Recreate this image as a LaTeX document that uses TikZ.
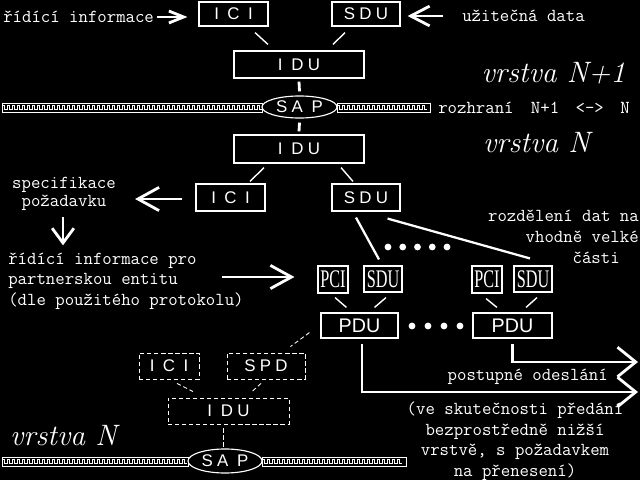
\documentclass[tikz,border=0pt]{standalone}
\usepackage{fontspec}
\usepackage{tikz}
\usetikzlibrary{arrows.meta,calc,shapes.geometric}
\newfontfamily\boxfont[LetterSpace=25]{Liberation Sans}
\newfontfamily\wideboxfont[LetterSpace=50]{Liberation Sans}
\newfontfamily\pdufont{Liberation Sans}
\newfontfamily\narrowfont[FakeStretch=0.64]{Liberation Serif}

\tikzset{
  box/.style={draw=white, line width=0.8pt, text=white, inner sep=0pt,
    font=\boxfont\fontsize{12}{12}\selectfont},
  widebox/.style={box, font=\wideboxfont\fontsize{12}{12}\selectfont},
  dbox/.style={box, line width=0.6pt, dash pattern=on 3pt off 2pt},
  sapnode/.style={box, ellipse, fill=black},
  smallbox/.style={box, font=\narrowfont\fontsize{18}{18}\selectfont},
  pdubox/.style={box, font=\pdufont\fontsize{14}{14}\selectfont},
  link/.style={white, line width=1pt},
  thicklink/.style={white, line width=1.6pt},
  dlink/.style={white, line width=0.6pt, dash pattern=on 3pt off 2pt},
  vlink/.style={white, line width=2pt},
  txt/.style={text=white, inner sep=0pt, font=\ttfamily\fontsize{13}{14.6}\selectfont},
  layertxt/.style={text=white, inner sep=0pt, font=\rmfamily\itshape\fontsize{21}{21}\selectfont},
  bigarrow/.style 2 args={white, line width=2pt, -{Straight Barb[length=#1,width=#2]}},
}

\begin{document}
\begin{tikzpicture}[x=0.025cm,y=-0.025cm]
  \useasboundingbox (0,0) rectangle (640,480);
  \fill[black] (0,0) rectangle (640,480);

  % Interface bars (SAP)
  \foreach \a/\b/\y/\n in {2/262/103/51, 337/430/103/17, 2/188/457/36, 262/406/457/27}{
    \draw[white, line width=0.6pt] (\a,\y) rectangle (\b,\y+9);
    \foreach \i in {0,...,\n}
      \draw[white, line width=0.4pt] (\a+5*\i,\y+6.5) -- ++(0,-4) -- ++(2.5,0) -- ++(0,4) -- ++(2.5,0);
  }

  % Layer N+1
  \node[widebox, minimum width=1.725cm, minimum height=0.6cm] (ici1) at (233.5,14) {ICI};
  \node[box, minimum width=1.7cm, minimum height=0.6cm] (sdu1) at (366,14) {SDU};
  \node[box, minimum width=3.25cm, minimum height=0.675cm] (idu1) at (299,64.5) {I DU};
  \node[sapnode, minimum width=1.875cm, minimum height=0.55cm] (sap1) at (299.5,107) {SA P};
  \draw[link] ($(ici1.south)+(21.5,6)$) -- ($(idu1.north)+(-31,-6)$);
  \draw[link] ($(sdu1.south)+(-21,6)$) -- ($(idu1.north)+(34,-6)$);
  \draw[vlink] ($(idu1.south)+(0,3)$) -- ($(sap1.north)+(0,-4)$);

  \node[txt, anchor=west] (t1) at (3,17) {řídící informace};
  \draw[bigarrow={10.5pt}{8.5pt}] ($(t1.east)+(3,0)$) -- ($(ici1.west)+(-11,3)$);
  \node[txt, anchor=west] (t2) at (462,16) {užitečná data};
  \draw[bigarrow={13.5pt}{14pt}] ($(t2.west)+(-19,0)$) -- ($(sdu1.east)+(7,2)$);

  \node[layertxt, anchor=base] (v1) at (553.5,82) {vrstva N+1};
  \node[txt, anchor=west] (t8) at (438,108) {rozhraní\hspace{0.95em}N+1\hspace{0.9em}<->\hspace{0.9em}N};
  \node[layertxt, anchor=base] (v2) at (536.5,152) {vrstva N};

  % Layer N
  \node[box, minimum width=3.25cm, minimum height=0.7cm] (idu2) at (299,149) {I DU};
  \node[widebox, minimum width=1.725cm, minimum height=0.675cm] (ici2) at (230.5,197.5) {ICI};
  \node[box, minimum width=1.7cm, minimum height=0.675cm] (sdu2) at (366,197.5) {SDU};
  \draw[vlink] ($(sap1.south)+(0,4)$) -- ($(idu2.north)+(0,-3)$);
  \draw[link] ($(idu2.south)+(-35,4)$) -- ($(ici2.north)+(19.5,-2)$);
  \draw[link] ($(idu2.south)+(42,4)$) -- ($(sdu2.north)+(-13,-2)$);

  \node[txt, align=center, font=\ttfamily\fontsize{13}{13}\selectfont] (t3) at (64,194) {specifikace\\požadavku};
  \draw[bigarrow={15pt}{16.5pt}] ($(ici2.west)+(-13,1.5)$) -- ($(t3.east |- ici2.west)+(19,1.5)$);
  \node[txt, align=left, anchor=west] (t4) at (8,281) {řídící informace pro\\partnerskou entitu\\(dle použitého protokolu)};
  \draw[bigarrow={10.5pt}{15.5pt}] ($(t3.south)+(-1,6)$) -- ($(t3.south |- t4.north)+(-1,-7)$);

  % Splitting into PDUs
  \node[smallbox, minimum width=0.75cm, minimum height=0.675cm] (pci3) at (333,279.5) {PCI};
  \node[smallbox, minimum width=0.95cm, minimum height=0.65cm] (sdu3) at (383,279) {SDU};
  \node[smallbox, minimum width=0.75cm, minimum height=0.675cm] (pci4) at (487,279.5) {PCI};
  \node[smallbox, minimum width=0.95cm, minimum height=0.65cm] (sdu4) at (533,279) {SDU};
  \draw[thicklink] ($(sdu2.south)+(-10,6)$) -- ($(sdu3.north)+(-4,-6)$);
  \draw[thicklink] ($(sdu2.south east)+(-13,7)$) -- ($(sdu4.north)+(-3,-7)$);
  \foreach \i in {0,...,4} \fill[white] (388+14.75*\i,247) circle (2.4pt);
  \draw[bigarrow={15pt}{16.5pt}] ($(pci3.west)+(-95,-2.5)$) -- ($(pci3.west)+(-23,-2.5)$);

  \node[txt, align=right, anchor=east, font=\ttfamily\fontsize{13}{15}\selectfont] (t7) at (639,237) {rozdělení dat na\\vhodně velké\\části\hspace*{13.5pt}};

  \node[pdubox, minimum width=1.925cm, minimum height=0.625cm] (pdu1) at (359.5,325.5) {PDU};
  \node[pdubox, minimum width=1.975cm, minimum height=0.625cm] (pdu2) at (512.5,325.5) {PDU};
  \draw[link] ($(pci3.south)+(2,4)$) -- ($(pdu1.north)+(-13,-5)$);
  \draw[link] ($(sdu3.south)+(3,5)$) -- ($(pdu1.north)+(15,-5)$);
  \draw[link] ($(pci4.south)+(-1,5)$) -- ($(pdu2.north)+(-15.5,-5)$);
  \draw[link] ($(sdu4.south)+(4,5)$) -- ($(pdu2.north)+(13.5,-5)$);
  \foreach \i in {0,...,3} \fill[white] (412+16*\i,326) circle (2.4pt);

  % Sending down
  \coordinate (out1) at (638,392);
  \coordinate (out2) at (638,362);
  \draw[bigarrow={13pt}{21pt}] ($(pdu1.south)+(2.5,5)$) |- (out1);
  \draw[bigarrow={13pt}{21pt}] ($(pdu2.south)+(0,5)$) |- (out2);
  \node[txt, anchor=east] (t5) at (608,377) {postupné odeslání};
  \node[txt, align=center] (t6) at (515,441) {(ve skutečnosti předání\\bezprostředně nižší\\vrstvě, s požadavkem\\na přenesení)};

  % Request to layer N-1
  \node[dbox, font=\wideboxfont\fontsize{12}{12}\selectfont, minimum width=1.5cm, minimum height=0.65cm] (ici5) at (169,366) {ICI};
  \node[dbox, minimum width=1.95cm, minimum height=0.65cm] (spd5) at (266,366) {SPD};
  \node[dbox, minimum width=3.025cm, minimum height=0.65cm] (idu5) at (228.5,411) {I DU};
  \node[sapnode, minimum width=1.85cm, minimum height=0.6cm] (sap5) at (225,461) {SA P};
  \draw[dlink] ($(pdu1.south west)+(-11,-6)$) -- ($(spd5.north east)+(-15,-6)$);
  \draw[dlink] ($(ici5.south)+(8,4)$) -- ($(idu5.north)+(-35.5,-6)$);
  \draw[dlink] ($(spd5.south)+(-5,4)$) -- ($(idu5.north)+(23.5,-6)$);
  \draw[dlink] ($(idu5.south)+(-5.5,4)$) -- ($(sap5.north)+(-2,-1)$);
  \node[layertxt, anchor=base] (v3) at (63.5,445) {vrstva N};
\end{tikzpicture}
\end{document}
